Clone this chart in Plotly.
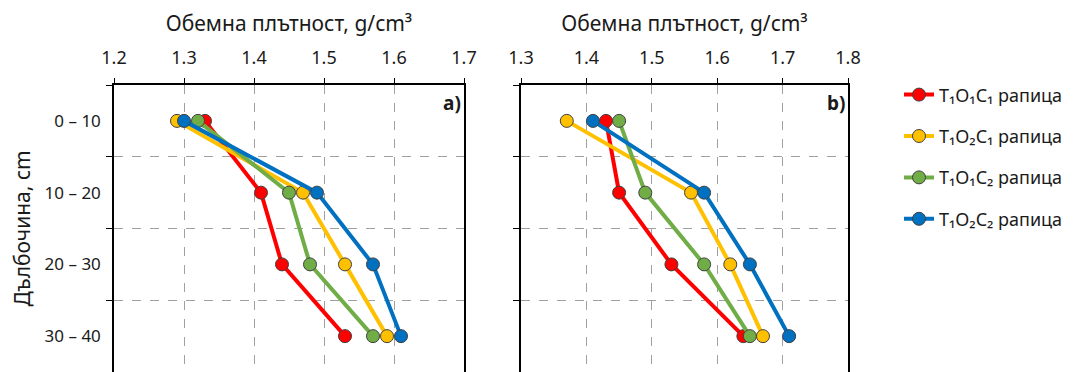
import plotly.graph_objects as go

depths = ["0 – 10", "10 – 20", "20 – 30", "30 – 40"]
series_names = ["T₁O₁C₁ рапица", "T₁O₂C₁ рапица", "T₁O₁C₂ рапица", "T₁O₂C₂ рапица"]
colors = ["#FF0000", "#FFC000", "#70AD47", "#0070C0"]

# panel a)
a_t1o1c1 = [1.33, 1.41, 1.44, 1.53]
a_t1o2c1 = [1.29, 1.47, 1.53, 1.59]
a_t1o1c2 = [1.32, 1.45, 1.48, 1.57]
a_t1o2c2 = [1.30, 1.49, 1.57, 1.61]

# panel b)
b_t1o1c1 = [1.43, 1.45, 1.53, 1.64]
b_t1o2c1 = [1.37, 1.56, 1.62, 1.67]
b_t1o1c2 = [1.45, 1.49, 1.58, 1.65]
b_t1o2c2 = [1.41, 1.58, 1.65, 1.71]

xticks_a = [1.2, 1.3, 1.4, 1.5, 1.6, 1.7]
xticks_b = [1.3, 1.4, 1.5, 1.6, 1.7, 1.8]

FONT = "Noto Sans"
TXT = "#1a1a1a"
OFF = 8  # default page body margin
W, H = 1079 - OFF, 372 - OFF
L, R, T, B = 114 - OFF, 848 - OFF, 85 - OFF, 0
pw = R - L

fig = go.Figure()

a_series = [a_t1o1c1, a_t1o2c1, a_t1o1c2, a_t1o2c2]
b_series = [b_t1o1c1, b_t1o2c1, b_t1o1c2, b_t1o2c2]

for name, col, vals in zip(series_names, colors, a_series):
    fig.add_trace(go.Scatter(
        x=vals, y=depths, mode="lines+markers", name=name,
        line=dict(color=col, width=4),
        marker=dict(size=13, color=col, line=dict(color="#404040", width=1)),
        xaxis="x", yaxis="y", legendgroup=name, showlegend=True))

for name, col, vals in zip(series_names, colors, b_series):
    fig.add_trace(go.Scatter(
        x=vals, y=depths, mode="lines+markers", name=name,
        line=dict(color=col, width=4),
        marker=dict(size=13, color=col, line=dict(color="#404040", width=1)),
        xaxis="x2", yaxis="y2", legendgroup=name, showlegend=False))

xa_end = (464 - OFF - L) / pw
xb_start = (521 - OFF - L) / pw

common_x = dict(
    side="top", showline=True, linecolor="black", linewidth=1.5,
    ticks="outside", ticklen=5, tickcolor="black", tickwidth=1,
    showgrid=True, gridcolor="#A0A0A0", griddash="dash", gridwidth=1,
    tickfont=dict(family=FONT, size=18, color=TXT),
    title=dict(text="Обемна плътност, g/cm³", font=dict(family=FONT, size=21, color=TXT), standoff=8),
    zeroline=False, tickformat=".1f", ticklabelstandoff=7, automargin=False,
)

common_y = dict(
    type="category", categoryorder="array", categoryarray=depths,
    autorange=False, range=[3.5, -0.5], tickson="boundaries",
    showline=True, mirror=True, linecolor="black", linewidth=1.5,
    ticks="outside", ticklen=6, tickcolor="black",
    showgrid=True, gridcolor="#A0A0A0", griddash="dash", automargin=False,
)

fig.update_layout(
    width=W, height=H,
    margin=dict(l=L, r=W - R, t=T, b=B),
    paper_bgcolor="white", plot_bgcolor="white",
    font=dict(family=FONT, size=17, color=TXT),
    xaxis=dict(domain=[0, xa_end], range=[1.2, 1.7], tickvals=xticks_a, anchor="y", **common_x),
    xaxis2=dict(domain=[xb_start, 1], range=[1.3, 1.8], tickvals=xticks_b, anchor="y2", **common_x),
    yaxis=dict(tickfont=dict(family=FONT, size=17, color=TXT),
               title=dict(text="Дълбочина, cm", font=dict(family=FONT, size=21, color=TXT), standoff=18),
               anchor="x", ticklabelstandoff=8, **common_y),
    yaxis2=dict(showticklabels=False, anchor="x2", **common_y),
    legend=dict(x=(899 - OFF - L) / pw, xanchor="left", y=1.03, yanchor="top",
                font=dict(family=FONT, size=18, color=TXT),
                tracegroupgap=15, bgcolor="rgba(0,0,0,0)"),
    showlegend=True,
)

fig.add_annotation(text="<b>a)</b>", xref="x domain", yref="y domain", x=0.997, y=0.99,
                   xanchor="right", yanchor="top", showarrow=False,
                   font=dict(family=FONT, size=19, color=TXT))
fig.add_annotation(text="<b>b)</b>", xref="x2 domain", yref="y2 domain", x=0.997, y=0.99,
                   xanchor="right", yanchor="top", showarrow=False,
                   font=dict(family=FONT, size=19, color=TXT))

fig.write_html("out.html")
